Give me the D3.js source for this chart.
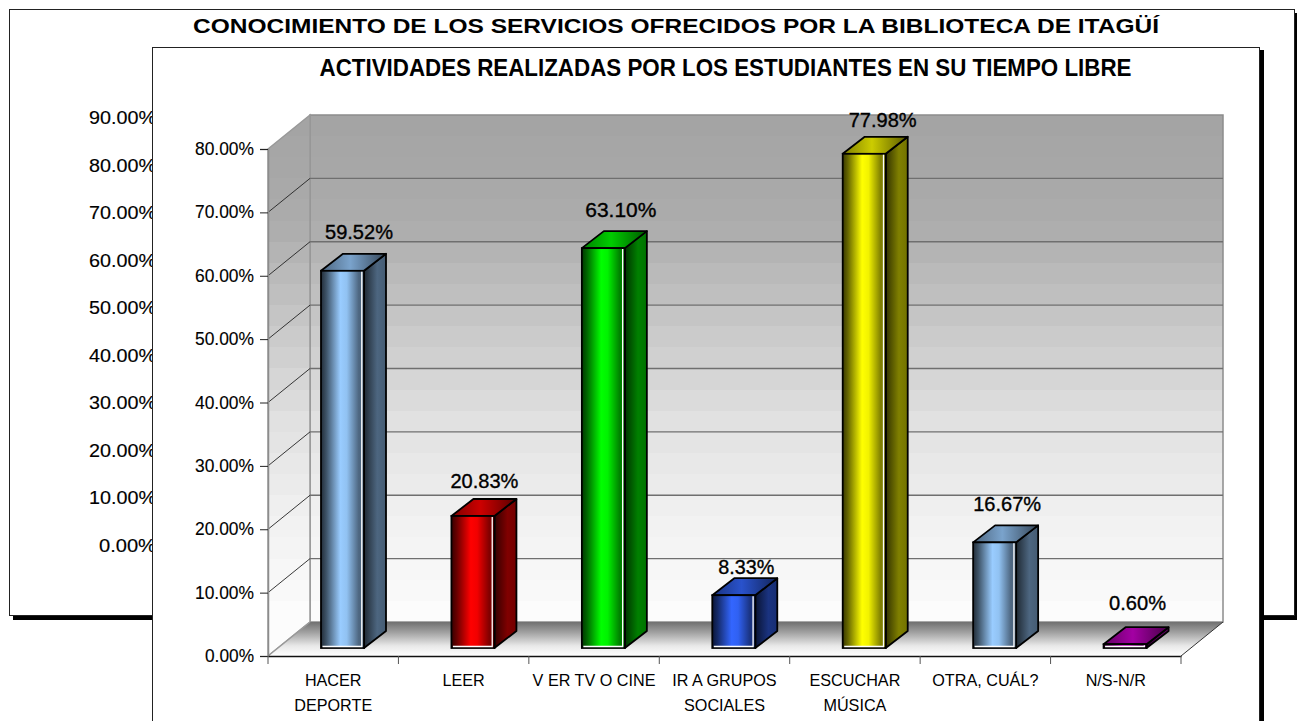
<!DOCTYPE html>
<html><head><meta charset="utf-8">
<script src="https://cdn.jsdelivr.net/npm/d3@7"></script>
<style>html,body{margin:0;padding:0;background:#fff;overflow:hidden}svg{display:block}text{font-family:"Liberation Sans",Arial,sans-serif;fill:#000}</style>
</head><body><svg id="c" width="1297" height="721"></svg>
<script>
const outerTitle = "CONOCIMIENTO DE LOS SERVICIOS OFRECIDOS POR LA BIBLIOTECA DE ITAGÜÍ";
const innerTitle = "ACTIVIDADES REALIZADAS POR LOS ESTUDIANTES EN SU TIEMPO LIBRE";
const outerTicks = [90,80,70,60,50,40,30,20,10,0];
const innerTicks = [0,10,20,30,40,50,60,70,80];
const categories = ["HACER DEPORTE","LEER","VER TV O CINE","IR A GRUPOS SOCIALES","ESCUCHAR MÚSICA","OTRA, CUÁL?","N/S-N/R"];
const categoryLines = [["HACER","DEPORTE"],["LEER"],["V ER TV O CINE"],["IR A GRUPOS","SOCIALES"],["ESCUCHAR","MÚSICA"],["OTRA, CUÁL?"],["N/S-N/R"]];
const values = [59.52,20.83,63.10,8.33,77.98,16.67,0.60];
const barColors = ["#99ccff","#ff0000","#00ff00","#3366ff","#ffff00","#99ccff","#cc00cc"];

const svg = d3.select("#c"), defs = svg.append("defs");
const X0=268, X1=1181, Y0=656, Y80=149, DX=42, DY=-34, BDX=22, BDY=-17, BW=43, LIFT=8;
const x = d3.scaleBand().domain(categories).range([X0,X1]);
const y = d3.scaleLinear().domain([0,80]).range([Y0,Y80]);
const yOuter = d3.scaleLinear().domain([0,90]).range([545,117]);
const pts = a => a.map(p=>p.join(",")).join(" ");
const fmt = v => v.toFixed(2)+"%";

// outer frame
svg.append("rect").attr("x",13).attr("y",616).attr("width",1284).attr("height",4).attr("fill","#000");
svg.append("rect").attr("x",1295).attr("y",13).attr("width",2).attr("height",607).attr("fill","#000");
svg.append("rect").attr("x",9.5).attr("y",9.5).attr("width",1285).attr("height",606).attr("fill","#fff").attr("stroke","#222");
svg.append("text").attr("x",676).attr("y",33).attr("text-anchor","middle").attr("font-size",20).attr("font-weight","bold")
  .attr("textLength",966).attr("lengthAdjust","spacingAndGlyphs").text(outerTitle);
svg.append("g").selectAll("text").data(outerTicks).join("text")
  .attr("x",89).attr("y",d=>yOuter(d)+7).attr("font-size",18)
  .attr("stroke","#000").attr("stroke-width",0.15)
  .attr("textLength",d=>d===0?57:67).attr("lengthAdjust","spacingAndGlyphs")
  .attr("dx",d=>d===0?10:0).text(fmt);

// inner frame
svg.append("rect").attr("x",1260).attr("y",50).attr("width",4).attr("height",671).attr("fill","#000");
svg.append("rect").attr("x",152.5).attr("y",47.5).attr("width",1107).attr("height",690).attr("fill","#fff").attr("stroke","#222");
svg.append("text").attr("x",725.5).attr("y",76).attr("text-anchor","middle").attr("font-size",23.5).attr("font-weight","bold")
  .attr("textLength",812).attr("lengthAdjust","spacingAndGlyphs").text(innerTitle);

// stepped wall fill
const wall = d3.scaleLinear().domain([0,0.2,0.4,0.6,0.8,1]).range(["#a4a4a4","#acacac","#c6c6c6","#e0e0e0","#f0f0f0","#fcfcfc"]);
function steps(id,x1,y1,x2,y2){
  const g=defs.append("linearGradient").attr("id",id).attr("gradientUnits","userSpaceOnUse")
    .attr("x1",x1).attr("y1",y1).attr("x2",x2).attr("y2",y2);
  const n=24;
  d3.range(n).forEach(i=>{
    g.append("stop").attr("offset",i/n).attr("stop-color",wall(i/(n-1)));
    g.append("stop").attr("offset",(i+1)/n).attr("stop-color",wall(i/(n-1)));
  });
}
steps("backWall",0,Y80+DY,0,Y0+DY);
svg.append("rect").attr("x",X0+DX).attr("y",Y80+DY).attr("width",X1-X0).attr("height",Y0-Y80).attr("fill","url(#backWall)").attr("stroke","#8c8c8c").attr("stroke-width",1.5);
svg.append("polygon").attr("points",pts([[X0,Y80],[X0+DX,Y80+DY],[X0+DX,Y0+DY],[X0,Y0]])).attr("fill","url(#backWall)").attr("stroke","#999").attr("stroke-width",1.5);

// floor
const fg=defs.append("linearGradient").attr("id","floor").attr("x1",0).attr("y1",0).attr("x2",0).attr("y2",1);
[[0,"#707070"],[0.3,"#a0a0a0"],[0.7,"#e8e8e8"],[1,"#ffffff"]].forEach(s=>fg.append("stop").attr("offset",s[0]).attr("stop-color",s[1]));
svg.append("polygon").attr("points",pts([[X0,Y0],[X1,Y0],[X1+DX,Y0+DY],[X0+DX,Y0+DY]])).attr("fill","url(#floor)");
svg.append("line").attr("x1",X1).attr("y1",Y0).attr("x2",X1+DX).attr("y2",Y0+DY).attr("stroke","#333");
svg.append("line").attr("x1",X0).attr("y1",Y0).attr("x2",X0+DX).attr("y2",Y0+DY).attr("stroke","#999").attr("stroke-width",1.5);

// grid lines
const gridVals = innerTicks.filter(d=>d>0);
svg.append("g").selectAll("line").data(gridVals.filter(d=>d<80)).join("line")
  .attr("x1",X0+DX).attr("x2",X1+DX).attr("y1",d=>y(d)+DY).attr("y2",d=>y(d)+DY).attr("stroke","#6f6f6f").attr("stroke-width",1.4);
svg.append("g").selectAll("line").data(gridVals.filter(d=>d<80)).join("line")
  .attr("x1",X0).attr("x2",X0+DX).attr("y1",d=>y(d)).attr("y2",d=>y(d)+DY).attr("stroke","#222").attr("stroke-width",0.9);

// axes
const yAxis = d3.axisLeft(y).tickValues(innerTicks).tickSize(8).tickPadding(6).tickFormat(fmt);
const ga = svg.append("g").attr("transform",`translate(${X0},0)`).call(yAxis);
ga.select(".domain").attr("stroke","#8c8c8c").attr("stroke-width",1.5);
ga.selectAll("line").attr("stroke","#222");
ga.selectAll("text").attr("font-size",17.5).attr("font-family","Liberation Sans").attr("fill","#000")
  .attr("stroke","#000").attr("stroke-width",0.12)
  .attr("textLength",d=>d===0?49:59).attr("lengthAdjust","spacingAndGlyphs");
const xAxis = d3.axisBottom(x).tickSize(0).tickFormat("");
const gx = svg.append("g").attr("transform",`translate(0,${Y0})`).call(xAxis);
gx.select(".domain").attr("stroke","#111").attr("stroke-width",1.3);
svg.append("g").selectAll("line").data(d3.range(categories.length+1)).join("line")
  .attr("x1",i=>X0+i*x.step()).attr("x2",i=>X0+i*x.step()).attr("y1",Y0).attr("y2",Y0+8).attr("stroke","#555");

// category labels
const catG = svg.append("g").selectAll("g").data(categories).join("g");
catG.each(function(c,i){
  d3.select(this).selectAll("text").data(categoryLines[i]).join("text")
    .attr("x",x(c)+x.bandwidth()/2).attr("y",(d,j)=>686+j*25).attr("text-anchor","middle").attr("font-size",16.2).text(d=>d);
});

// bars
const shade=(c,k)=>d3.interpolateRgb("#000",c)(k);
function grad(id,c,stops){
  const g=defs.append("linearGradient").attr("id",id).attr("x1",0).attr("x2",1).attr("y1",0).attr("y2",0);
  stops.forEach(s=>g.append("stop").attr("offset",s[0]).attr("stop-color",shade(c,s[1])));
}
const labelDx=[38,33,39,34,40,34,34], labelLift=[15,11,14,4,10,14,17];
const labelW=[68,68,71,56,68,68,57];
const bars = svg.append("g").selectAll("g").data(values).join("g");
bars.each(function(v,i){
  const g=d3.select(this), c=barColors[i];
  const L=x(categories[i])+53, R=L+BW, B=Y0-LIFT, T=B-(Y0-y(v));
  grad("f"+i,c,[[0,.22],[.12,.4],[.45,1],[.6,.95],[.88,.5],[1,.5]]);
  grad("s"+i,c,[[0,.2],[.6,.5],[1,.45]]);
  grad("t"+i,c,[[0,.5],[.45,.8],[1,.35]]);
  g.append("polygon").attr("points",pts([[R,T],[R+BDX,T+BDY],[R+BDX,B+BDY],[R,B]])).attr("fill",`url(#s${i})`).attr("stroke","#000").attr("stroke-width",1.8).attr("stroke-linejoin","round");
  g.append("polygon").attr("points",pts([[L,T],[L+BDX,T+BDY],[R+BDX,T+BDY],[R,T]])).attr("fill",`url(#t${i})`).attr("stroke","#000").attr("stroke-width",1.8).attr("stroke-linejoin","round");
  g.append("rect").attr("x",L).attr("y",T).attr("width",BW).attr("height",B-T).attr("fill",`url(#f${i})`).attr("stroke","#000").attr("stroke-width",1.8);
  g.append("path").attr("d",`M${R-2.2},${T+1}V${B-1.5}H${L+1.5}`).attr("fill","none").attr("stroke","#fff").attr("stroke-width",1.3);
  g.append("text").attr("x",L+labelDx[i]).attr("y",T+BDY-labelLift[i]).attr("text-anchor","middle").attr("font-size",20).attr("stroke","#000").attr("stroke-width",0.35)
    .attr("textLength",labelW[i]).attr("lengthAdjust","spacingAndGlyphs").text(fmt(v));
});
</script></body></html>
